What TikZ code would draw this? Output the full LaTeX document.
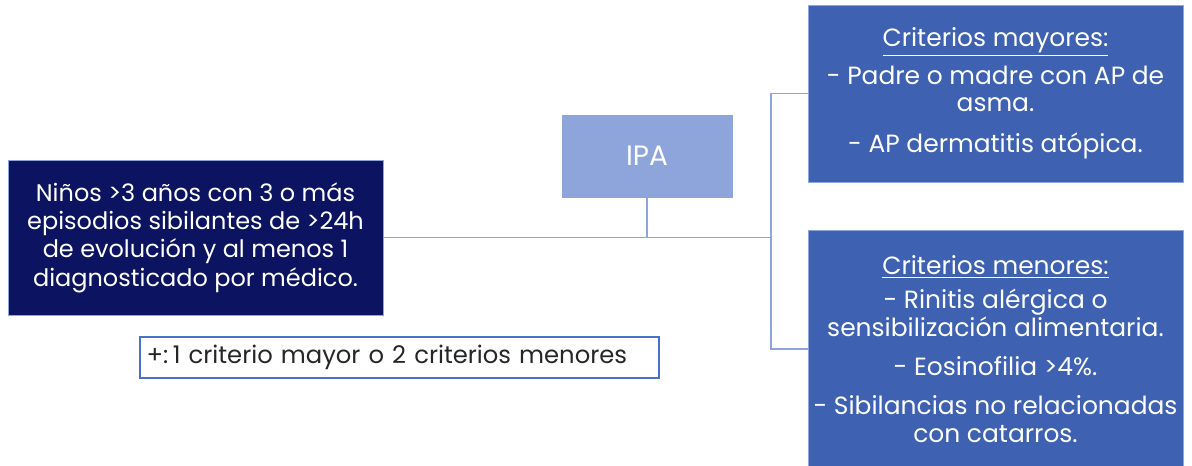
\documentclass[tikz,border=0pt]{standalone}
\usepackage{fontspec}
\setmainfont{Poppins}
\definecolor{navy}{HTML}{0C1461}
\definecolor{ipablue}{HTML}{8EA5DC}
\definecolor{boxblue}{HTML}{3E61B2}
\definecolor{linecol}{HTML}{8EA5DC}
\definecolor{legendline}{HTML}{4A6FCC}
\begin{document}
\begin{tikzpicture}[x=0.75pt,y=-0.75pt,
  conn/.style={draw=linecol,line width=1.1pt},
  basebox/.style={draw=linecol,line width=0.6pt,align=center,inner sep=0pt,text=white},
  fontA/.style={font=\fontsize{18}{21.3}\selectfont},
  fontB/.style={font=\fontsize{18.7}{20.5}\selectfont}]
\useasboundingbox (0,0) rectangle (1192,465);
\node[basebox,fill=navy,fontA,minimum width=281.25pt,minimum height=116.25pt] (left) at (195.5,237.5)
  {Niños >3 años con 3 o más\\episodios sibilantes de >24h\\de evolución y al menos 1\\diagnosticado por médico.};
\node[basebox,fill=ipablue,font=\fontsize{21}{24}\selectfont,minimum width=127.5pt,minimum height=61.5pt] (ipa) at (647,156) {IPA};
\node[basebox,fill=boxblue,fontB,minimum width=281.25pt,minimum height=132.75pt] (mayor) at (995.5,93.5)
  {\underline{Criterios mayores:}\\[6.5pt]- Padre o madre con AP de\\asma.\\[10pt]- AP dermatitis atópica.};
\node[basebox,fill=boxblue,fontB,minimum width=281.25pt,minimum height=178.5pt] (menor) at (995.5,349)
  {\underline{Criterios menores:}\\[5pt]- Rinitis alérgica o\\sensibilización alimentaria.\\[9pt]- Eosinofilia >4\%.\\[9pt]- Sibilancias no relacionadas\\con catarros.};
\node[draw=legendline,line width=0.8pt,fill=white,text=black!85,font=\fontsize{18.2}{21}\selectfont,minimum width=389.25pt,minimum height=30.75pt,inner xsep=5pt,inner ysep=0pt,text width=379.25pt,align=left] (legend) at (399.5,357.5)
  {+:\hspace{0.18em}1 criterio mayor o 2 criterios menores};
\coordinate (j) at (771,237.5);
\draw[conn] (left.east) -- (j);
\draw[conn] (ipa.south) -- (ipa.south |- j);
\draw[conn] (mayor.west) -| (j) |- (menor.west);
\end{tikzpicture}
\end{document}
